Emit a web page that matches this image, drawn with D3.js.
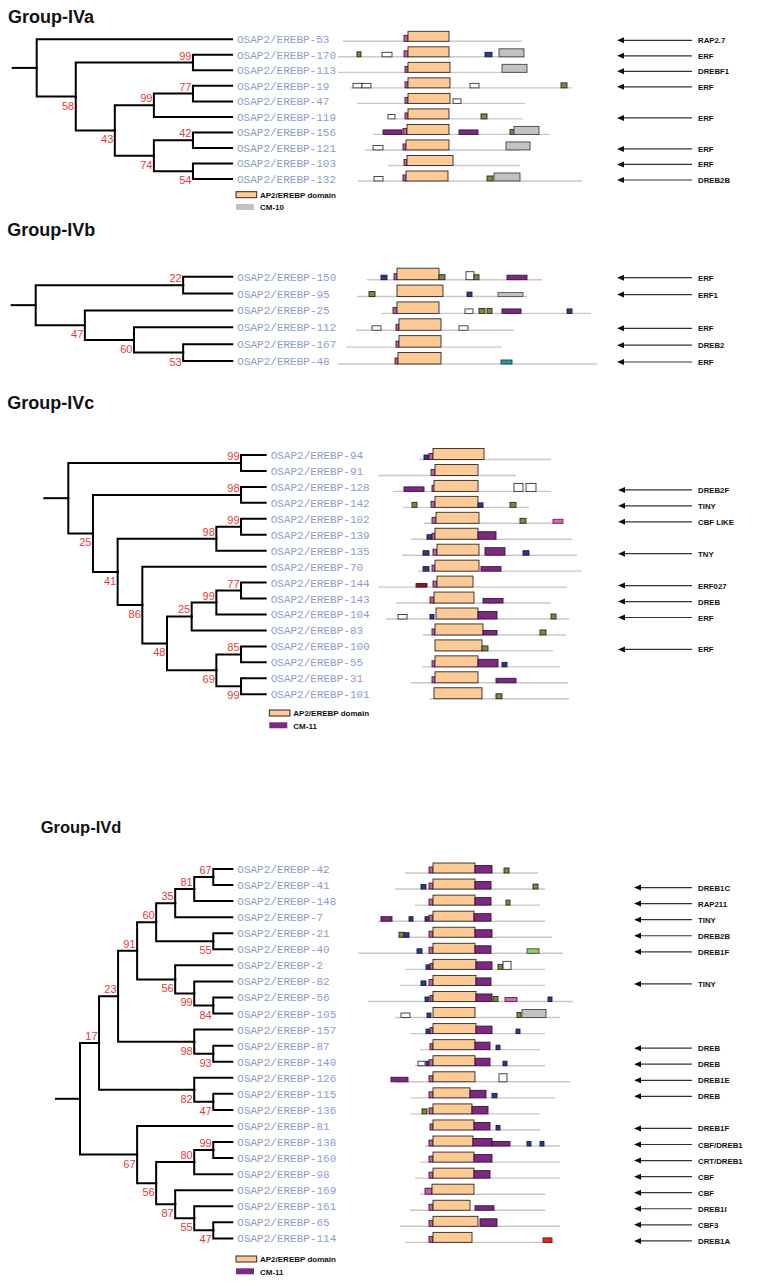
<!DOCTYPE html>
<html><head><meta charset="utf-8">
<script src="https://cdn.jsdelivr.net/npm/d3@7"></script>
<style>body{margin:0;background:#fff}</style>
</head><body>
<svg id="chart" width="768" height="1283"></svg>
<script>
// ================= DATA =================
// Trees: internal node = [bootstrap, child, child], leaf = id string
const treeIVa = [null, "53", [58, [99, "170", "113"], [43, [99, [77, "19", "47"], "119"], [74, [42, "156", "121"], [54, "103", "132"]]]]];
const treeIVb = [null, [22, "150", "95"], [47, "25", [60, "112", [53, "167", "48"]]]];
const treeIVc = [null, [99, "94", "91"], [25, [98, "128", "142"], [41, [98, [99, "102", "139"], "135"], [86, "70", [48, [25, [99, [77, "144", "143"], "104"], "83"], [69, [85, "100", "55"], [99, "31", "101"]]]]]]];
const treeIVd = [null,
  [17, [23, [91, [60, [35, [81, [67, "42", "41"], "148"], "7"], [55, "21", "40"]], [56, "2", [99, "82", [84, "56", "105"]]]], [98, "157", [93, "87", "140"]]], [82, "126", [47, "115", "136"]]],
  [67, "81", [56, [80, [99, "138", "160"], "98"], [87, "169", [55, "161", [47, "65", "114"]]]]]];

const leafPrefix = "OSAP2/EREBP-";

// Protein diagrams: first entry = protein extent [start, end]; then [motif, start, end] (residue-like units)
const domIVa = {
  "53":  [[13,192], ["pk",74,78], ["ap2",78,119]],
  "170": [[8,194], ["gr",27,31], ["wh",52,62], ["pk",74,78], ["ap2",78,119], ["nv",155,162], ["gy",169,194]],
  "113": [[8,197], ["pk",75,78], ["ap2",78,120], ["gy",172,197]],
  "19":  [[20,242], ["wh",23,32], ["wh",32,41], ["pk",75,78], ["ap2",78,120], ["wh",140,149], ["gr",231,237]],
  "47":  [[27,195], ["pk",75,78], ["ap2",78,120], ["wh",123,131]],
  "119": [[65,193], ["wh",58,65], ["pk",75,78], ["ap2",78,119], ["gr",151,157]],
  "156": [[43,220], ["pu",53,72], ["pk",73,77], ["ap2",77,119], ["pu",129,148], ["gr",180,184], ["gy",184,209]],
  "121": [[35,190], ["wh",43,53], ["pk",73,76], ["ap2",76,119], ["gy",176,200]],
  "103": [[58,190], ["pk",74,77], ["ap2",77,123]],
  "132": [[28,252], ["wh",44,53], ["pk",73,76], ["ap2",76,118], ["gr",157,163], ["gy",164,190]]
};
const domIVb = {
  "150": [[37,212], ["nv",51,57], ["pk",64,67], ["ap2",67,109], ["gr",109,115], ["whT",136,144], ["gr",144,149], ["pu",177,197]],
  "95":  [[27,197], ["gr",39,45], ["ap2",67,113], ["nv",137,142], ["gyS",168,193]],
  "25":  [[51,261], ["pk",63,67], ["ap2",67,109], ["wh",135,143], ["gr",149,155], ["gr",157,162], ["pu",172,191], ["nv",237,242]],
  "112": [[26,184], ["wh",42,51], ["pk",66,69], ["ap2",69,111], ["wh",129,138]],
  "167": [[16,172], ["pk",66,69], ["ap2",69,111]],
  "48":  [[8,267], ["pk",65,68], ["ap2",68,111], ["tl",171,182]]
};
const domIVc = {
  "94":  [[89,221], ["nv",94,99], ["pk",99,103], ["ap2",103,154]],
  "91":  [[48,186], ["pk",101,105], ["ap2",105,148]],
  "128": [[63,221], ["pu",74,94], ["pk",102,105], ["ap2",104,148], ["whT",184,193], ["whT",196,206]],
  "142": [[73,199], ["gr",82,87], ["pk",101,105], ["ap2",105,148], ["nv",148,153], ["gr",180,186]],
  "102": [[94,233], ["pk",102,106], ["ap2",106,149], ["gr",190,196], ["mg",223,233]],
  "139": [[81,242], ["nv",97,102], ["pk",102,105], ["ap2",105,148], ["puT",148,166]],
  "135": [[72,247], ["nv",93,99], ["pk",103,107], ["ap2",107,149], ["puT",155,175], ["nv",193,199]],
  "70":  [[88,252], ["nv",93,99], ["pk",102,105], ["ap2",105,149], ["pu",151,171]],
  "144": [[48,237], ["dr",86,97], ["pk",103,107], ["ap2",107,143]],
  "143": [[66,221], ["pk",100,104], ["ap2",104,144], ["pu",153,173]],
  "104": [[56,239], ["wh",68,77], ["nv",100,104], ["ap2",106,148], ["puT",148,167], ["gr",221,226]],
  "83":  [[93,236], ["pk",102,105], ["ap2",105,153], ["pu",153,167], ["gr",210,216]],
  "100": [[105,223], ["ap2",105,152], ["gr",152,158]],
  "55":  [[92,230], ["pk",102,105], ["ap2",105,148], ["puT",148,168], ["nv",172,177]],
  "31":  [[81,238], ["pk",102,105], ["ap2",105,148], ["pu",166,186]],
  "101": [[99,239], ["ap2",104,152], ["gr",166,172]]
};
const domIVd = {
  "42":  [[75,208], ["pk",99,103], ["ap2",103,145], ["puT",145,162], ["gr",174,179]],
  "41":  [[65,215], ["nv",91,96], ["pk",99,103], ["ap2",103,145], ["puT",145,161], ["gr",203,208]],
  "148": [[85,210], ["pk",99,103], ["ap2",103,145], ["puT",145,161], ["gr",176,180]],
  "7":   [[48,215], ["pu",51,62], ["nv",79,83], ["nv",95,99], ["pk",99,103], ["ap2",103,144], ["puT",144,161]],
  "21":  [[68,222], ["gr",69,74], ["nv",74,79], ["pk",99,103], ["ap2",103,145], ["puT",145,162]],
  "40":  [[28,233], ["nv",87,92], ["pk",99,103], ["ap2",103,145], ["puT",145,161], ["lg",197,209]],
  "2":   [[75,215], ["nv",96,100], ["pk",100,103], ["ap2",103,146], ["puT",146,162], ["gr",168,173], ["whT",173,181]],
  "82":  [[70,215], ["nv",91,96], ["pk",99,103], ["ap2",103,146], ["puT",146,161]],
  "56":  [[38,243], ["nv",95,99], ["pk",100,103], ["ap2",103,146], ["puT",146,162], ["gr",163,168], ["mg",175,187], ["nv",218,222]],
  "105": [[65,230], ["wh",71,80], ["nv",97,101], ["ap2",103,145], ["gr",187,191], ["gy",192,216]],
  "157": [[80,215], ["nv",96,100], ["pk",100,103], ["ap2",103,146], ["puT",146,162], ["nv",186,190]],
  "87":  [[90,210], ["pk",100,103], ["ap2",103,145], ["puT",145,160], ["nv",166,170]],
  "140": [[85,215], ["wh",88,95], ["nv",96,99], ["pk",99,103], ["ap2",103,145], ["puT",145,160], ["nv",173,177]],
  "126": [[65,240], ["pu",61,78], ["pk",99,103], ["ap2",103,145], ["whT",169,177]],
  "115": [[80,225], ["pk",99,103], ["ap2",103,140], ["puT",140,156], ["nv",162,167]],
  "136": [[80,210], ["gr",92,97], ["pk",99,103], ["ap2",103,142], ["puT",142,158]],
  "81":  [[105,210], ["pk",100,103], ["ap2",103,144], ["puT",144,160], ["nv",166,170]],
  "138": [[95,230], ["pk",99,103], ["ap2",103,143], ["puT",143,162], ["pu",162,180], ["nv",197,201], ["nv",210,214]],
  "160": [[90,230], ["pk",99,103], ["ap2",103,144], ["puT",144,162]],
  "98":  [[85,230], ["pk",99,103], ["ap2",103,144], ["puT",144,160]],
  "169": [[90,215], ["pk",95,102], ["ap2",102,144]],
  "161": [[80,215], ["pk",99,103], ["ap2",103,140], ["pu",145,164]],
  "65":  [[70,230], ["pk",99,103], ["ap2",103,148], ["puT",150,167]],
  "114": [[75,225], ["pk",99,103], ["ap2",103,142], ["rd",213,222]]
};

// Annotation arrows: [leaf id, annotation]
const arrowsIVa = [["53","RAP2.7"],["170","ERF"],["113","DREBF1"],["19","ERF"],["119","ERF"],["121","ERF"],["103","ERF"],["132","DREB2B"]];
const arrowsIVb = [["150","ERF"],["95","ERF1"],["112","ERF"],["167","DREB2"],["48","ERF"]];
const arrowsIVc = [["128","DREB2F"],["142","TINY"],["102","CBF LIKE"],["135","TNY"],["144","ERF027"],["143","DREB"],["104","ERF"],["100","ERF"]];
const arrowsIVd = [["41","DREB1C"],["148","RAP211"],["7","TINY"],["21","DREB2B"],["40","DREB1F"],["82","TINY"],["87","DREB"],["140","DREB"],["126","DREB1E"],["115","DREB"],["81","DREB1F"],["138","CBF/DREB1"],["160","CRT/DREB1"],["98","CBF"],["169","CBF"],["161","DREB1I"],["65","CBF3"],["114","DREB1A"]];

// Legends: [motif, label]
const legendIVa = [["ap2","AP2/EREBP domain"],["gyL","CM-10"]];
const legendIVc = [["ap2","AP2/EREBP domain"],["puL","CM-11"]];
const legendIVd = [["ap2","AP2/EREBP domain"],["puL","CM-11"]];

const titles = ["Group-IVa","Group-IVb","Group-IVc","Group-IVd"];

// ================= STYLE / LAYOUT =================
const STY = {
  ap2:{fill:"#fdc994", stroke:"#2a2a2a", h:null},
  pk: {fill:"#c95b9d", stroke:"#3a1f3a", h:6},
  nv: {fill:"#2d3b8e", stroke:"#1a1a40", h:4.5},
  gr: {fill:"#7c8a3a", stroke:"#2a2a1a", h:5},
  wh: {fill:"#ffffff", stroke:"#333", h:4.5},
  whT:{fill:"#ffffff", stroke:"#333", h:8},
  gy: {fill:"#c2c2c2", stroke:"#444", h:8},
  gyS:{fill:"#c2c2c2", stroke:"#555", h:4},
  pu: {fill:"#7b2a80", stroke:"#3a1040", h:4.5},
  puT:{fill:"#7b2a80", stroke:"#3a1040", h:7.5},
  tl: {fill:"#2a9c9c", stroke:"#1a4040", h:4},
  dr: {fill:"#8e1a1a", stroke:"#401010", h:3.5},
  mg: {fill:"#d36aaf", stroke:"#6a2050", h:4},
  rd: {fill:"#e02828", stroke:"#801010", h:4.5},
  lg: {fill:"#8fd06c", stroke:"#335522", h:4.5},
  gyL:{fill:"#c2c2c2", stroke:"none"},
  puL:{fill:"#7b2a80", stroke:"none"}
};

const layouts = [
  {tx:8,   ty:23,    ts:18,   top:39.3,  step:15.52, rootX:36.7, leafX:232,   lineDy:2,   boxH:10,   ax1:617, ax2:692, aDy:1,   lgX:236,   lgY:191.7},
  {tx:7.3, ty:235.7, ts:18,   top:276.7, step:16.86, rootX:35.7, leafX:232.3, lineDy:3,   boxH:11.5, ax1:617, ax2:692, aDy:1},
  {tx:7.3, ty:409.3, ts:18,   top:455,   step:15.95, rootX:68.3, leafX:265.7, lineDy:4.5, boxH:11,   ax1:618, ax2:692, aDy:3,   lgX:269.3, lgY:710},
  {tx:40.7,ty:832.7, ts:16.5, top:869,   step:16.06, rootX:80,   leafX:232.3, lineDy:4,   boxH:10,   ax1:634, ax2:692, aDy:2.5, lgX:236,   lgY:1256}
];

const groups = [
  {tree:treeIVa, dom:domIVa, arrows:arrowsIVa, legend:legendIVa},
  {tree:treeIVb, dom:domIVb, arrows:arrowsIVb, legend:null},
  {tree:treeIVc, dom:domIVc, arrows:arrowsIVc, legend:legendIVc},
  {tree:treeIVd, dom:domIVd, arrows:arrowsIVd, legend:legendIVd}
];

// ================= DRAW =================
const svg = d3.select("#chart");
svg.append("rect").attr("width",768).attr("height",1283).attr("fill","#fff");

// motif positions -> pixels
const xDom = d3.scaleLinear().domain([0, 300]).range([330, 630]);

groups.forEach((g, gi) => {
  const L = layouts[gi];
  const G = svg.append("g");

  G.append("text").attr("x", L.tx).attr("y", L.ty)
    .attr("font-family","Liberation Sans, Arial, sans-serif").attr("font-weight","bold")
    .attr("font-size", L.ts).attr("fill","#111").text(titles[gi]);

  const root = d3.hierarchy(g.tree, d => Array.isArray(d) ? d.slice(1) : null);
  const nLeaves = root.leaves().length;
  d3.cluster().size([nLeaves * L.step, L.leafX - L.rootX]).separation(() => 1)(root);
  const firstLeafX = root.leaves()[0].x;
  root.each(n => { n.sx = L.rootX + n.y; n.sy = L.top + (n.x - firstLeafX); });

  // branches
  const links = root.descendants().filter(n => n.parent);
  G.append("g").selectAll("path").data(links).join("path")
    .attr("d", n => `M${n.parent.sx},${n.parent.sy}V${n.sy}H${n.sx}`)
    .attr("fill","none").attr("stroke","#000").attr("stroke-width",2).attr("stroke-linecap","square");
  G.append("path").attr("d", `M${L.rootX-25},${root.sy}H${L.rootX}`)
    .attr("stroke","#000").attr("stroke-width",2).attr("fill","none");

  // bootstrap values
  const internals = root.descendants().filter(n => n.parent && n.children && n.data[0] != null);
  G.append("g").selectAll("text").data(internals).join("text")
    .attr("x", n => n.sx - 1.5)
    .attr("y", n => n.parent.children[0] === n ? n.sy - 3 : n.sy + 13)
    .attr("text-anchor","end").attr("font-family","Liberation Sans, Arial, sans-serif")
    .attr("font-size",11).attr("fill","#e53a3a").text(n => n.data[0]);

  // leaf labels
  const leaves = root.leaves();
  G.append("g").selectAll("text").data(leaves).join("text")
    .attr("x", L.leafX + 5).attr("y", n => n.sy).attr("dy","0.36em")
    .attr("font-family","Liberation Mono, monospace").attr("font-size",11)
    .attr("fill","#8f9cca").text(n => leafPrefix + n.data);

  const leafY = {};
  leaves.forEach(n => leafY[n.data] = n.sy);

  // protein diagrams
  const D = G.append("g");
  leaves.forEach(n => {
    const rec = g.dom[n.data];
    if (!rec) return;
    const base = n.sy + L.lineDy;
    D.append("line").attr("x1", xDom(rec[0][0])).attr("x2", xDom(rec[0][1]))
      .attr("y1", base).attr("y2", base).attr("stroke","#c9c9c9").attr("stroke-width",1.4);
    rec.slice(1).forEach(m => {
      const s = STY[m[0]];
      const h = s.h == null ? L.boxH : s.h;
      D.append("rect").attr("x", xDom(m[1])).attr("y", base - h)
        .attr("width", xDom(m[2]) - xDom(m[1])).attr("height", h)
        .attr("fill", s.fill).attr("stroke", s.stroke).attr("stroke-width", 0.9);
    });
  });

  // legend
  if (g.legend) {
    const widths = [20.7, 18];
    g.legend.forEach((it, i) => {
      const s = STY[it[0]];
      const y = L.lgY + i * 12.3;
      G.append("rect").attr("x", L.lgX).attr("y", y).attr("width", widths[i]).attr("height", 6)
        .attr("fill", s.fill).attr("stroke", s.stroke).attr("stroke-width", 1);
      G.append("text").attr("x", L.lgX + 24).attr("y", y + 6.3)
        .attr("font-family","Liberation Sans, Arial, sans-serif").attr("font-weight","bold")
        .attr("font-size",8).attr("fill","#111").text(it[1]);
    });
  }

  // arrows
  const A = G.append("g");
  g.arrows.forEach(a => {
    const y = leafY[a[0]] + L.aDy;
    A.append("line").attr("x1", L.ax1 + 5).attr("x2", L.ax2).attr("y1", y).attr("y2", y)
      .attr("stroke","#333").attr("stroke-width",1.2);
    A.append("path").attr("d", `M${L.ax1},${y}L${L.ax1+7},${y-3}L${L.ax1+7},${y+3}Z`).attr("fill","#111");
    A.append("text").attr("x", L.ax2 + 6).attr("y", y + 3)
      .attr("font-family","Liberation Sans, Arial, sans-serif").attr("font-weight","bold")
      .attr("font-size",7.8).attr("fill","#111").text(a[1]);
  });
});
</script>
</body></html>
